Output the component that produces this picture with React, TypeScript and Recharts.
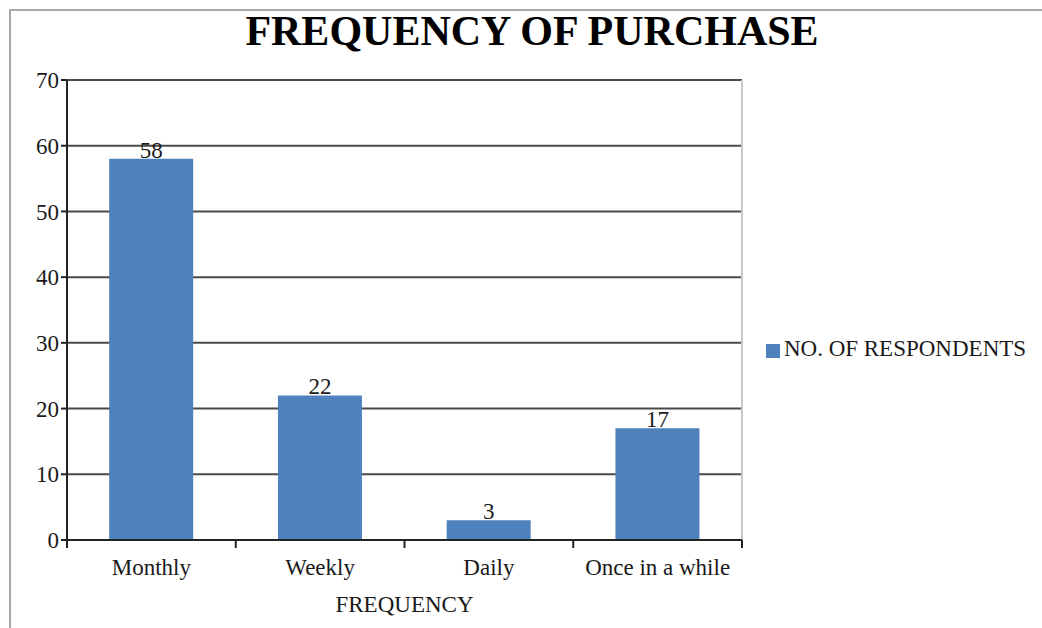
import React from 'react';
import {
  BarChart,
  Bar,
  XAxis,
  YAxis,
  CartesianGrid,
  Legend,
  LabelList,
} from 'recharts';

const categories = ['Monthly', 'Weekly', 'Daily', 'Once in a while'];
const respondents = [58, 22, 3, 17];
const yTicks = [0, 10, 20, 30, 40, 50, 60, 70];

const data = categories.map((frequency, i) => ({
  frequency,
  respondents: respondents[i],
}));

const FONT = '"Liberation Serif", "Times New Roman", serif';
const BAR_COLOR = '#4F81BD';
const TEXT_COLOR = '#1a1a1a';
const LABEL_SIZE = 23;

// category axis ticks sit on the band boundaries, labels in the middle
const CategoryTick = (props: any) => {
  const { x, y, payload, index } = props;
  const half = payload?.offset ?? 0;
  const last = index === categories.length - 1;
  return (
    <g>
      <line x1={x - half} y1={y - 8} x2={x - half} y2={y} stroke="#222" strokeWidth={2} />
      {last && (
        <line x1={x + half} y1={y - 8} x2={x + half} y2={y} stroke="#222" strokeWidth={2} />
      )}
      <text
        x={x}
        y={y + 27}
        textAnchor="middle"
        fontFamily={FONT}
        fontSize={LABEL_SIZE}
        fill={TEXT_COLOR}
      >
        {payload.value}
      </text>
    </g>
  );
};

export default function App() {
  return (
    <div
      style={{
        position: 'absolute',
        left: 0,
        top: 0,
        width: 1042,
        height: 628,
        overflow: 'hidden',
        background: '#fff',
      }}
    >
      <div
        style={{
          position: 'absolute',
          left: 9,
          top: 9,
          width: 1100,
          height: 700,
          border: '2px solid #a8a8a8',
        }}
      />
      <div
        style={{
          position: 'absolute',
          left: 0,
          top: 7,
          width: 1064,
          textAlign: 'center',
          fontFamily: FONT,
          fontWeight: 'bold',
          fontSize: 42,
          color: '#000',
        }}
      >
        FREQUENCY OF PURCHASE
      </div>
      <div style={{ position: 'absolute', left: 0, top: 0 }}>
        <BarChart
          width={1042}
          height={628}
          data={data}
          margin={{ top: 80, right: 300, bottom: 8, left: 7 }}
          barCategoryGap="25%"
        >
          <CartesianGrid horizontal vertical={false} stroke="#4a4a4a" strokeWidth={2} />
          <CartesianGrid
            horizontal={false}
            vertical
            verticalPoints={[742]}
            stroke="#c8c8c8"
            strokeWidth={2}
          />
          <XAxis
            dataKey="frequency"
            axisLine={{ stroke: '#222', strokeWidth: 2 }}
            tickLine={false}
            tick={<CategoryTick />}
            height={80}
            interval={0}
            label={{
              value: 'FREQUENCY',
              position: 'insideBottom',
              offset: 8,
              fontFamily: FONT,
              fontSize: LABEL_SIZE,
              fill: TEXT_COLOR,
            }}
          />
          <YAxis
            width={60}
            domain={[0, 70]}
            ticks={yTicks}
            interval={0}
            axisLine={{ stroke: '#222', strokeWidth: 2 }}
            tickLine={{ stroke: '#222', strokeWidth: 2 }}
            tickSize={6}
            tick={{ fontFamily: FONT, fontSize: LABEL_SIZE, fill: TEXT_COLOR }}
          />
          <Legend
            layout="horizontal"
            align="center"
            verticalAlign="middle"
            iconType="square"
            iconSize={14}
            wrapperStyle={{
              left: 756,
              top: 336,
              width: 290,
              textAlign: 'left',
              fontFamily: FONT,
              fontSize: LABEL_SIZE,
            }}
            formatter={(value) => <span style={{ color: TEXT_COLOR }}>{value}</span>}
          />
          <Bar
            dataKey="respondents"
            name="NO. OF RESPONDENTS"
            fill={BAR_COLOR}
            isAnimationActive={false}
          >
            <LabelList
              dataKey="respondents"
              position="top"
              offset={1}
              fontFamily={FONT}
              fontSize={LABEL_SIZE}
              fill={TEXT_COLOR}
            />
          </Bar>
        </BarChart>
      </div>
    </div>
  );
}
